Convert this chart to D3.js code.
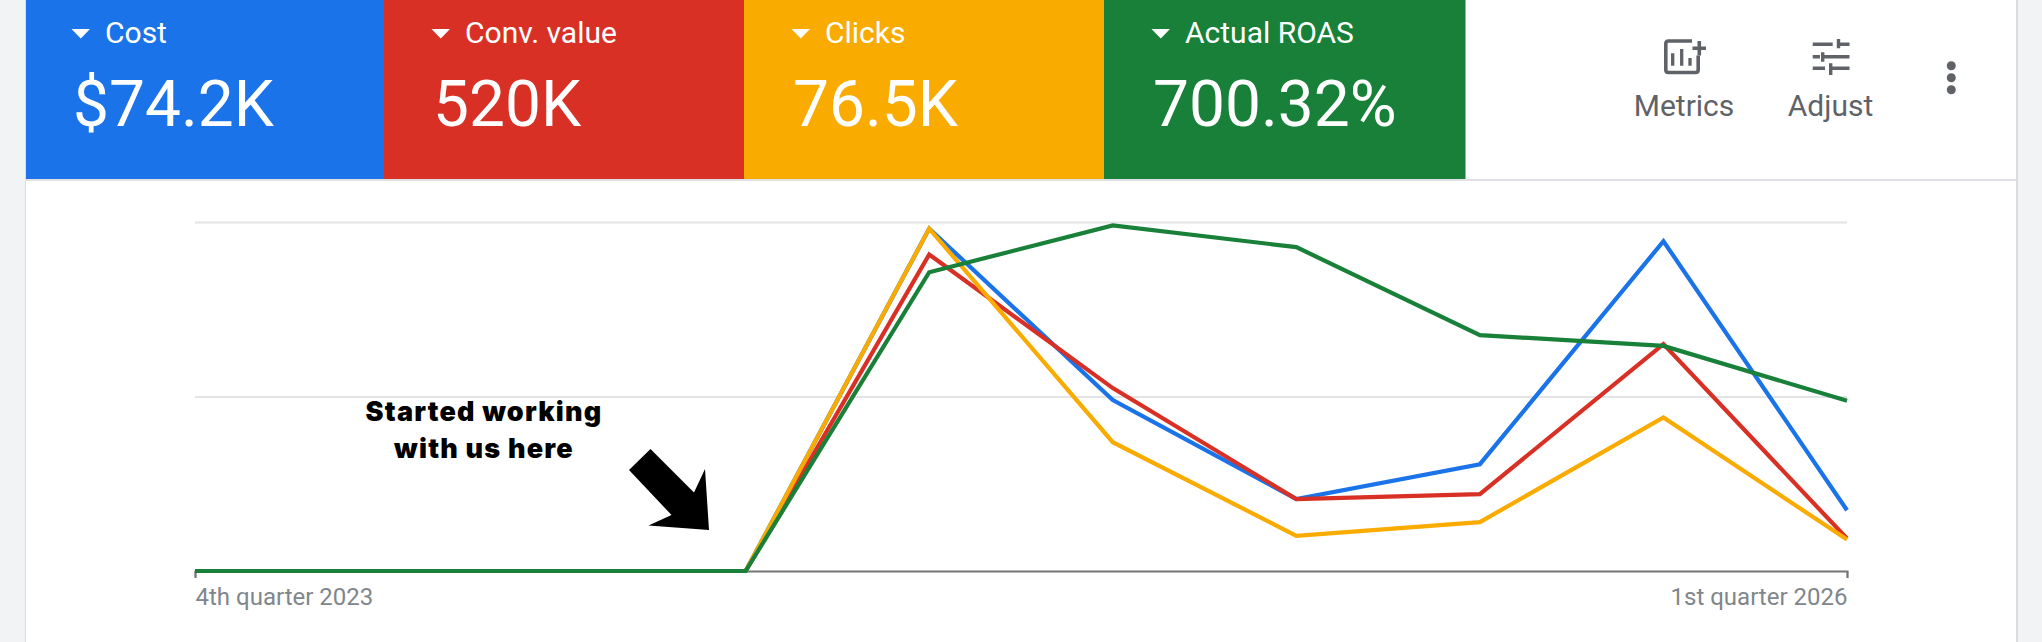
<!DOCTYPE html>
<html>
<head>
<meta charset="utf-8">
<script src="https://cdn.jsdelivr.net/npm/d3@7"></script>
<style>
  html, body { margin: 0; padding: 0; background: #fff; overflow: hidden; }
  text { font-family: Roboto, sans-serif; }
</style>
</head>
<body>
<div id="chart"></div>
<script>
const width = 2042;
const height = 642;

// scorecards
const metricNames = ["Cost", "Conv. value", "Clicks", "Actual ROAS"];
const metricTotals = ["$74.2K", "520K", "76.5K", "700.32%"];
const metricColors = ["#1a73e8", "#d93025", "#f9ab00", "#188038"];

const quarters = ["Q4 2023", "Q1 2024", "Q2 2024", "Q3 2024", "Q4 2024", "Q1 2025", "Q2 2025", "Q3 2025", "Q4 2025", "Q1 2026"];
const costValues = [0, 0, 0, 0, 98.1, 49.0, 20.6, 30.6, 94.5, 17.4];
const convValues = [0, 0, 0, 0, 90.7, 52.4, 20.6, 22.0, 65.0, 9.3];
const clickValues = [0, 0, 0, 0, 98.1, 36.9, 10.1, 14.0, 44.0, 9.0];
const roasValues = [0, 0, 0, 0, 85.6, 99.0, 92.8, 67.6, 64.5, 48.8];
const allSeries = [costValues, convValues, clickValues, roasValues];

const firstLabel = "4th quarter 2023";
const lastLabel = "1st quarter 2026";
const gridTicks = [50, 100];
const noteLines = ["Started working", "with us here"];

const svg = d3.select("#chart").append("svg")
  .attr("width", width)
  .attr("height", height)
  .style("display", "block");

// card
svg.append("rect").attr("width", width).attr("height", height).attr("fill", "#fff");
svg.append("rect").attr("x", 26).attr("y", 179).attr("width", 1990).attr("height", 2).attr("fill", "#dfe1e5");

// tiles, the first one runs under the left gutter
const tileX = d3.scaleBand().domain(metricNames).range([24, 1464]);

const tiles = svg.selectAll(".tile")
  .data(metricNames)
  .enter()
  .append("g")
  .attr("class", "tile")
  .attr("transform", d => `translate(${tileX(d)},0)`);

tiles.append("rect")
  .attr("width", (d, i) => tileX.bandwidth() + (i === 3 ? 1.5 : 0.5))
  .attr("height", 179)
  .attr("fill", (d, i) => metricColors[i]);

tiles.append("path")
  .attr("d", "M47.5,29L66,29L56.75,38.5Z")
  .attr("fill", "#fff");

tiles.append("text")
  .attr("x", 81)
  .attr("y", 43)
  .attr("font-size", 30)
  .attr("fill", "#fff")
  .text(d => d);

tiles.append("text")
  .attr("x", 49)
  .attr("y", 126)
  .attr("font-size", 64)
  .attr("font-weight", 400)
  .attr("fill", "#fff")
  .text((d, i) => metricTotals[i]);

// gutters
svg.append("rect").attr("width", 25).attr("height", height).attr("fill", "#f1f3f4");
svg.append("rect").attr("x", 25).attr("width", 1).attr("height", height).attr("fill", "#dadce0");
svg.append("rect").attr("x", 2016).attr("width", 2).attr("height", height).attr("fill", "#dadce0");
svg.append("rect").attr("x", 2018).attr("width", 24).attr("height", height).attr("fill", "#f1f3f4");

// toolbar
const grey = "#5f6368";

const metricsIcon = svg.append("g").attr("fill", "none").attr("stroke", grey).attr("stroke-width", 3.6);
metricsIcon.append("path").attr("d", "M1692,41L1668.5,41Q1665.8,41 1665.8,43.7L1665.8,69.8Q1665.8,72.5 1668.5,72.5L1695.5,72.5Q1698.2,72.5 1698.2,69.8L1698.2,55.5");
metricsIcon.append("path").attr("d", "M1699.3,41V55.5M1692.5,48.3H1706");
metricsIcon.append("path").attr("stroke-width", 3.3).attr("d", "M1672.7,53.3V65.7M1681.7,49V65.7M1690,58V65.7");

const adjustIcon = svg.append("g").attr("fill", "none").attr("stroke", grey).attr("stroke-width", 3.4);
adjustIcon.append("path").attr("d", "M1812.7,44.3H1832.7M1838.5,39V48.3M1838.5,44.3H1849.5");
adjustIcon.append("path").attr("d", "M1812.7,56.7H1820M1822.7,52.3V61.7M1822.7,56.7H1849.5");
adjustIcon.append("path").attr("d", "M1812.7,68.3H1825M1830.7,63.3V75M1830.7,68.3H1849.5");

svg.selectAll(".tool-label")
  .data([["Metrics", 1684], ["Adjust", 1830.5]])
  .enter()
  .append("text")
  .attr("class", "tool-label")
  .attr("x", d => d[1])
  .attr("y", 116)
  .attr("text-anchor", "middle")
  .attr("font-size", 30)
  .attr("fill", grey)
  .text(d => d[0]);

svg.selectAll(".dot")
  .data([65.7, 77.7, 89.7])
  .enter()
  .append("circle")
  .attr("cx", 1951.3)
  .attr("cy", d => d)
  .attr("r", 4.5)
  .attr("fill", grey);

// plot
const x = d3.scalePoint().domain(quarters).range([195, 1847]);
const y = d3.scaleLinear().domain([0, 100]).range([571, 222]);

const gridAxis = d3.axisLeft(y).tickValues(gridTicks).tickSize(-(1847 - 195)).tickFormat("");
const gridG = svg.append("g").attr("transform", "translate(195,0)").call(gridAxis);
gridG.select(".domain").remove();
gridG.selectAll("line").attr("stroke", "#e3e4e6").attr("stroke-width", 2);

const xAxis = d3.axisBottom(x)
  .tickValues([quarters[0], quarters[quarters.length - 1]])
  .tickSize(7)
  .tickPadding(10)
  .tickFormat((d, i) => i === 0 ? firstLabel : lastLabel);

const xG = svg.append("g").attr("transform", "translate(0,571)").call(xAxis);
xG.select(".domain").attr("stroke", "#757575").attr("stroke-width", 2);
xG.selectAll("line").attr("stroke", "#757575").attr("stroke-width", 1.5);
xG.selectAll("text")
  .attr("font-family", "Roboto, sans-serif")
  .attr("font-size", 24)
  .attr("fill", "#80868b")
  .attr("text-anchor", (d, i) => i === 0 ? "start" : "end");

const line = d3.line()
  .x((d, i) => x(quarters[i]))
  .y(d => y(d));

svg.selectAll(".series")
  .data(allSeries)
  .enter()
  .append("path")
  .attr("class", "series")
  .attr("d", line)
  .attr("fill", "none")
  .attr("stroke", (d, i) => metricColors[i])
  .attr("stroke-width", 4.2)
  .attr("stroke-linejoin", "miter");

// annotation
svg.selectAll(".note")
  .data(noteLines)
  .enter()
  .append("text")
  .attr("class", "note")
  .attr("x", 484)
  .attr("y", (d, i) => 421 + i * 37)
  .attr("text-anchor", "middle")
  .attr("font-size", 27)
  .attr("font-weight", 900)
  .attr("letter-spacing", 1.2)
  .attr("fill", "#000")
  .style("font-family", "Inter, sans-serif")
  .text(d => d);

svg.append("path")
  .attr("d", "M650.5,449L629,470L671.5,515L648.5,525.5L709,530L705,469L694,492.5Z")
  .attr("fill", "#000");
</script>
</body>
</html>
